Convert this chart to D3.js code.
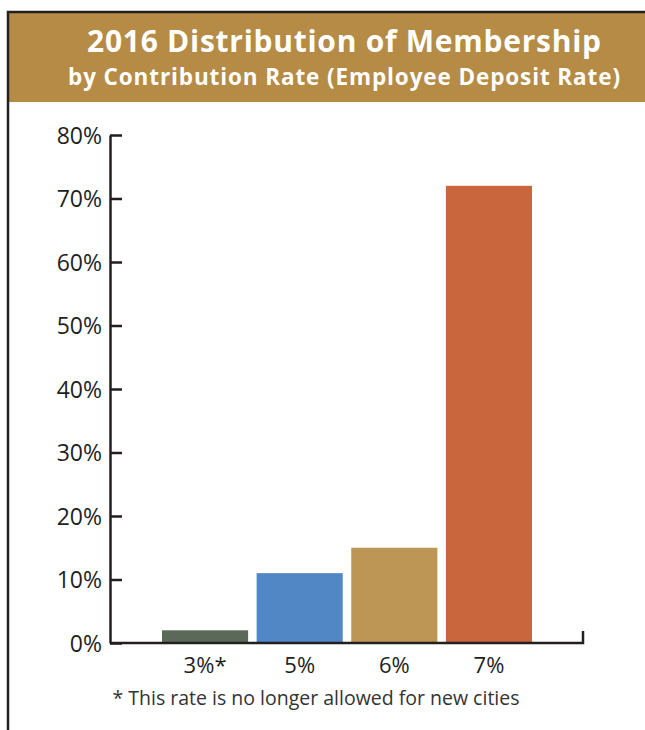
<!DOCTYPE html>
<html>
<head>
<meta charset="utf-8">
<script src="https://cdn.jsdelivr.net/npm/d3@7"></script>
<style>
  html, body { margin: 0; padding: 0; background: #fff; }
  svg { display: block; }
</style>
</head>
<body>
<svg id="chart" width="645" height="730"></svg>
<script>
// dados do gráfico
const categorias = ["3%*", "5%", "6%", "7%"];
const valores = [2, 11, 15, 72];
const cores = ["#5b6a58", "#5287c6", "#bd9555", "#c9663e"];
const ticksY = [0, 10, 20, 30, 40, 50, 60, 70, 80];

const titulo = "2016 Distribution of Membership";
const subtitulo = "by Contribution Rate (Employee Deposit Rate)";
const notaRodape = "* This rate is no longer allowed for new cities";

const config = {
    margin: { top: 135, left: 110, right: 62, bottom: 87 },
    largura: 645,
    altura: 730,
    corFaixa: "#b58b45",
    corEixo: "#231f20",
    fonte: "'Open Sans', sans-serif"
};

const svg = d3.select("#chart");

// moldura e faixa do título
svg.append("rect")
    .attr("x", 9).attr("y", 13)
    .attr("width", config.largura).attr("height", 89)
    .attr("fill", config.corFaixa);
svg.append("path")
    .attr("d", `M8,${config.altura + 5}V12H${config.largura + 5}`)
    .attr("fill", "none")
    .attr("stroke", config.corEixo)
    .attr("stroke-width", 2.5);

svg.append("text")
    .attr("x", 344).attr("y", 52)
    .attr("text-anchor", "middle")
    .attr("fill", "#fff")
    .attr("font-family", config.fonte)
    .attr("font-weight", 700)
    .attr("font-size", "30px")
    .attr("textLength", 514)
    .attr("lengthAdjust", "spacing")
    .text(titulo);
svg.append("text")
    .attr("x", 344).attr("y", 85)
    .attr("text-anchor", "middle")
    .attr("fill", "#fff")
    .attr("font-family", config.fonte)
    .attr("font-weight", 700)
    .attr("font-size", "22.5px")
    .attr("textLength", 552)
    .attr("lengthAdjust", "spacing")
    .text(subtitulo);

const innerW = config.largura - config.margin.left - config.margin.right;
const innerH = config.altura - config.margin.top - config.margin.bottom;

const g = svg.append("g")
    .attr("transform", `translate(${config.margin.left},${config.margin.top})`);

const yScale = d3.scaleLinear().domain([0, 80]).range([innerH, 0]);
const xScale = d3.scaleBand()
    .domain(categorias)
    .range([52, 422])
    .paddingInner(0.09)
    .paddingOuter(0);

// barras
g.selectAll("rect.barra")
    .data(valores)
    .enter().append("rect")
    .attr("class", "barra")
    .attr("x", (d, i) => xScale(categorias[i]))
    .attr("width", xScale.bandwidth())
    .attr("y", d => yScale(d))
    .attr("height", d => innerH - yScale(d))
    .attr("fill", (d, i) => cores[i]);

// eixo Y com ticks para dentro
const eixoY = g.append("g")
    .call(d3.axisLeft(yScale)
        .tickValues(ticksY)
        .tickSizeInner(-12)
        .tickSizeOuter(0)
        .tickPadding(8)
        .tickFormat(d => d + "%"));
eixoY.select(".domain").attr("stroke", config.corEixo).attr("stroke-width", 2.5);
eixoY.selectAll(".tick line").attr("stroke", config.corEixo).attr("stroke-width", 2.5);
eixoY.selectAll(".tick text")
    .attr("fill", "#231f20")
    .attr("font-family", config.fonte)
    .attr("font-size", "23px")
    .attr("dy", "0.36em");

// eixo X
const eixoX = g.append("g")
    .attr("transform", `translate(0,${innerH})`)
    .call(d3.axisBottom(xScale).tickSize(0).tickPadding(14));
eixoX.select(".domain").remove();
eixoX.selectAll(".tick text")
    .attr("fill", "#231f20")
    .attr("font-family", config.fonte)
    .attr("font-size", "22px");

g.append("path")
    .attr("d", `M0,${innerH}H${innerW}V${innerH - 12}`)
    .attr("fill", "none")
    .attr("stroke", config.corEixo)
    .attr("stroke-width", 2.5);

// nota de rodapé
svg.append("text")
    .attr("x", 316).attr("y", 705)
    .attr("text-anchor", "middle")
    .attr("fill", "#333")
    .attr("font-family", config.fonte)
    .attr("font-size", "19.5px")
    .text(notaRodape);
</script>
</body>
</html>
